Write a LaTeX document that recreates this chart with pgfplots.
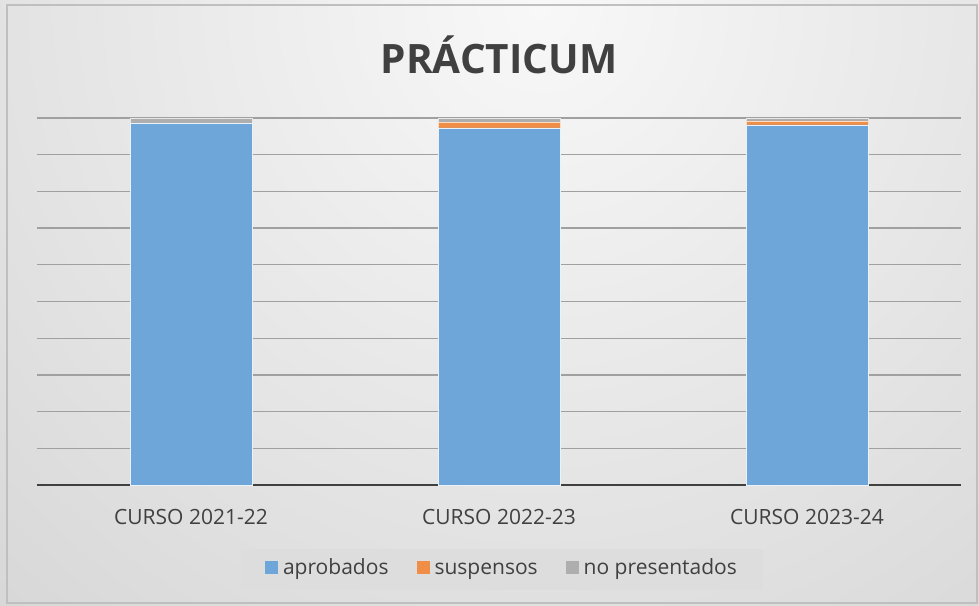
\documentclass[border=0pt]{standalone}
\usepackage{pgfplots}
\pgfplotsset{compat=1.18}
\usepackage{fontspec}
\setmainfont{Open Sans}
\definecolor{cblue}{HTML}{6FA6DA}
\definecolor{corange}{HTML}{F08E48}
\definecolor{cgray}{HTML}{AEAEAE}
\definecolor{ctext}{HTML}{404040}
\definecolor{cgrid}{HTML}{A0A0A0}
\definecolor{cleg}{HTML}{DDDDDD}
\definecolor{bgin}{HTML}{F8F8F8}
\definecolor{bgout}{HTML}{C2C2C2}
\begin{document}
\begin{tikzpicture}[x=1pt,y=1pt]
\useasboundingbox (0,0) rectangle (979,605);
% background
\begin{scope}
\clip (0,0) rectangle (979,605);
\shade[inner color=bgin, outer color=bgout] (540,600) circle (1350);
\end{scope}
\draw[white!75!black, line width=1.5pt] (7,2) rectangle (977,600);
\node[font=\fontsize{40.5}{40}\selectfont\bfseries, text=ctext] at (499,550) {PRÁCTICUM};
\begin{axis}[
    at={(37pt,120pt)}, anchor=south west,
    scale only axis,
    width=924pt, height=367pt,
    xmin=-0.5, xmax=2.5,
    ymin=0, ymax=100,
    ybar stacked,
    bar width=122pt,
    axis line style={draw=none},
    xtick={0,1,2},
    xticklabels={CURSO 2021-22, CURSO 2022-23, CURSO 2023-24},
    xtick style={draw=none},
    ytick={0,10,...,100},
    yticklabels={},
    ytick style={draw=none},
    ymajorgrids,
    grid style={cgrid, line width=1.3pt},
    xticklabel style={font=\fontsize{21}{24}\selectfont, text=ctext, anchor=base, yshift=-39pt},
    legend style={at={(0.5032,-0.2316)}, anchor=center, fill=cleg, draw=none,
        font=\fontsize{21}{24}\selectfont, text=ctext, legend columns=3,
        inner xsep=24pt, inner ysep=8.5pt,
        nodes={text height=15pt, text depth=5pt},
        /tikz/every odd column/.append style={column sep=3pt},
        /tikz/every even column/.append style={column sep=26pt}},
    legend cell align=left,
    legend image code/.code={\fill[#1, draw=none] (0pt,-4.5pt) rectangle (13pt,8.5pt);},
]
\addplot[fill=cblue, draw=white!85!cblue, line width=0.8pt] coordinates {(0,98.6) (1,97.3) (2,98.1)};
\addplot[fill=corange, draw=white!70!corange, line width=0.8pt] coordinates {(0,0) (1,1.4) (2,1.1)};
\addplot[fill=cgray, draw=white!70!cgray, line width=0.8pt] coordinates {(0,1.4) (1,1.3) (2,0.8)};
\legend{aprobados, suspensos, no presentados}
\draw[ctext, line width=3pt] (axis cs:-0.5,0) -- (axis cs:2.5,0);
\end{axis}
\end{tikzpicture}
\end{document}
